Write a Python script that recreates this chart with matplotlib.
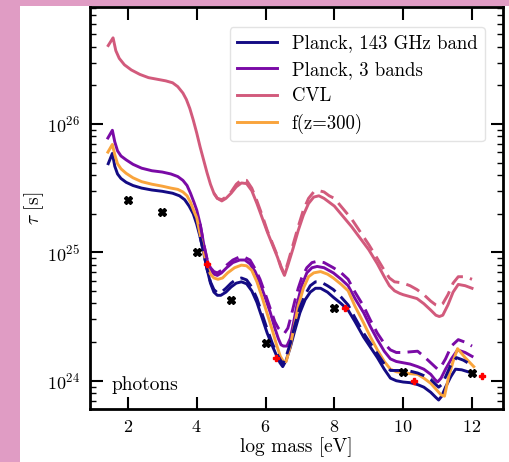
import numpy as np
import matplotlib
matplotlib.use("Agg")
import matplotlib.pyplot as plt
from matplotlib.patches import Rectangle

plt.rcParams['font.family'] = ['cmr10', 'DejaVu Serif']
plt.rcParams['mathtext.fontset'] = 'cm'
plt.rcParams['axes.formatter.use_mathtext'] = True
plt.rcParams['axes.unicode_minus'] = False

# log10(tau / s)
x_143 = [1.43, 1.55, 1.62, 1.7, 1.8, 1.95, 2.15, 2.4, 2.7, 3.0, 3.3, 3.5, 3.65, 3.78, 3.9, 4.0,
         4.1, 4.2, 4.3, 4.4, 4.5, 4.6, 4.7, 4.85, 5.0, 5.15, 5.3, 5.45, 5.6, 5.75, 5.9, 6.05,
         6.2, 6.33, 6.42, 6.5, 6.6, 6.72, 6.85, 7.0, 7.15, 7.3, 7.45, 7.6, 7.8, 7.97, 8.2, 8.4,
         8.6, 8.85, 9.05, 9.25, 9.45, 9.63, 9.8, 10.0, 10.2, 10.42, 10.6, 10.8, 10.95, 11.03,
         11.12, 11.23, 11.38, 11.52, 11.7, 12.0]
y_143 = [25.69, 25.77, 25.67, 25.61, 25.575, 25.545, 25.52, 25.50, 25.485, 25.475, 25.46, 25.44, 25.41, 25.36, 25.30, 25.22,
         25.12, 25.00, 24.87, 24.76, 24.69, 24.665, 24.665, 24.69, 24.73, 24.76, 24.77, 24.755, 24.70, 24.61, 24.49, 24.37,
         24.27, 24.19, 24.14, 24.11, 24.16, 24.26, 24.39, 24.53, 24.63, 24.69, 24.72, 24.72, 24.69, 24.65, 24.60, 24.55,
         24.46, 24.34, 24.26, 24.18, 24.09, 24.02, 24.00, 23.99, 23.985, 23.97, 23.95, 23.91, 23.87, 23.85,
         23.88, 23.95, 24.03, 24.09, 24.085, 24.06]
x_143d = [4.1, 4.2, 4.3, 4.4, 4.5, 4.6, 4.7, 4.85, 5.0, 5.15, 5.3, 5.45, 5.6, 5.75, 5.9, 6.05,
          6.2, 6.33, 6.5, 6.6, 6.72, 6.85, 7.0, 7.15, 7.3, 7.45, 7.6, 7.8, 7.97, 8.2, 8.4,
          8.6, 8.85, 9.05, 9.25, 9.45, 9.63, 9.8, 10.0, 10.2, 10.42, 10.6, 10.8, 10.95, 11.03,
          11.12, 11.23, 11.38, 11.55, 11.75, 12.0]
y_143d = [25.12, 25.00, 24.87, 24.77, 24.71, 24.685, 24.685, 24.72, 24.76, 24.79, 24.80, 24.785, 24.73, 24.64, 24.52, 24.40,
          24.29, 24.21, 24.13, 24.19, 24.29, 24.43, 24.57, 24.67, 24.74, 24.77, 24.77, 24.74, 24.71, 24.65, 24.59,
          24.49, 24.37, 24.29, 24.21, 24.13, 24.08, 24.08, 24.08, 24.075, 24.06, 24.04, 24.01, 23.97, 23.95,
          23.97, 24.03, 24.12, 24.18, 24.16, 24.12]

x_3b = [1.42, 1.55, 1.62, 1.7, 1.8, 1.95, 2.15, 2.4, 2.7, 3.0, 3.25, 3.45, 3.6, 3.72, 3.82, 3.92,
        4.0, 4.1, 4.2, 4.3, 4.4, 4.5, 4.6, 4.72, 4.87, 5.05, 5.25, 5.4, 5.55, 5.7, 5.84, 6.0,
        6.14, 6.27, 6.37, 6.45, 6.52, 6.62, 6.72, 6.82, 6.92, 7.05, 7.2, 7.35, 7.5, 7.7, 7.97,
        8.2, 8.4, 8.6, 8.85, 9.05, 9.25, 9.45, 9.63, 9.8, 10.0, 10.2, 10.42, 10.6, 10.8, 10.92,
        11.0, 11.1, 11.23, 11.4, 11.58, 11.8, 12.0]
y_3b = [25.89, 25.95, 25.86, 25.79, 25.75, 25.72, 25.685, 25.655, 25.635, 25.625, 25.61, 25.59, 25.56, 25.52, 25.46, 25.39,
        25.33, 25.22, 25.07, 24.94, 24.87, 24.83, 24.82, 24.84, 24.88, 24.92, 24.94, 24.94, 24.91, 24.85, 24.76, 24.64,
        24.53, 24.41, 24.33, 24.28, 24.27, 24.27, 24.33, 24.46, 24.60, 24.74, 24.84, 24.88, 24.89, 24.88, 24.84,
        24.79, 24.74, 24.64, 24.53, 24.42, 24.32, 24.23, 24.17, 24.15, 24.14, 24.13, 24.11, 24.09, 24.05, 24.01,
        23.99, 24.02, 24.09, 24.17, 24.24, 24.22, 24.19]
x_3bd = [4.1, 4.2, 4.3, 4.4, 4.5, 4.6, 4.72, 4.87, 5.05, 5.25, 5.4, 5.55, 5.7, 5.84, 6.0,
         6.14, 6.27, 6.37, 6.47, 6.55, 6.65, 6.75, 6.85, 6.95, 7.05, 7.2, 7.35, 7.5, 7.7, 7.97,
         8.2, 8.4, 8.6, 8.85, 9.05, 9.25, 9.45, 9.63, 9.8, 10.0, 10.2, 10.42, 10.6, 10.8, 10.92,
         11.0, 11.1, 11.23, 11.4, 11.6, 11.8, 12.0]
y_3bd = [25.22, 25.07, 24.95, 24.88, 24.85, 24.84, 24.86, 24.90, 24.94, 24.965, 24.96, 24.94, 24.87, 24.79, 24.67,
         24.56, 24.46, 24.41, 24.38, 24.37, 24.41, 24.51, 24.62, 24.72, 24.80, 24.88, 24.92, 24.93, 24.92, 24.88,
         24.84, 24.79, 24.69, 24.58, 24.47, 24.37, 24.29, 24.24, 24.22, 24.22, 24.225, 24.23, 24.19, 24.14, 24.11,
         24.09, 24.11, 24.17, 24.27, 24.32, 24.30, 24.27]

x_cvl = [1.43, 1.57, 1.65, 1.75, 1.9, 2.1, 2.35, 2.6, 2.9, 3.1, 3.3, 3.45, 3.6, 3.7, 3.8, 3.9,
         4.0, 4.1, 4.2, 4.3, 4.4, 4.5, 4.6, 4.73, 4.85, 5.0, 5.15, 5.3, 5.45, 5.6, 5.75, 5.9,
         6.05, 6.2, 6.35, 6.45, 6.55, 6.65, 6.8, 6.95, 7.1, 7.25, 7.4, 7.55, 7.7, 7.85, 8.0,
         8.25, 8.5, 8.75, 9.0, 9.25, 9.45, 9.6, 9.75, 9.9, 10.0, 10.2, 10.4, 10.6, 10.8, 10.95,
         11.05, 11.15, 11.3, 11.45, 11.6, 11.8, 12.0]
y_cvl = [26.61, 26.67, 26.57, 26.51, 26.46, 26.42, 26.385, 26.36, 26.345, 26.335, 26.32, 26.29, 26.24, 26.19, 26.12, 26.03,
         25.93, 25.82, 25.72, 25.62, 25.53, 25.46, 25.42, 25.40, 25.42, 25.46, 25.51, 25.54, 25.535, 25.48, 25.38, 25.27,
         25.16, 25.06, 24.96, 24.88, 24.82, 24.90, 25.03, 25.17, 25.29, 25.38, 25.43, 25.44, 25.42, 25.39, 25.36,
         25.28, 25.20, 25.11, 25.02, 24.91, 24.81, 24.74, 24.70, 24.68, 24.67, 24.655, 24.64, 24.60, 24.55, 24.51,
         24.50, 24.51, 24.59, 24.69, 24.75, 24.74, 24.72]
x_cvld = [4.5, 4.6, 4.73, 4.85, 5.0, 5.15, 5.3, 5.45, 5.6, 5.75, 5.9, 6.05, 6.2, 6.35, 6.45, 6.55,
          6.65, 6.8, 6.95, 7.1, 7.25, 7.4, 7.55, 7.7, 7.85, 8.0, 8.25, 8.5, 8.75, 9.0, 9.25,
          9.45, 9.6, 9.75, 9.9, 10.0, 10.2, 10.4, 10.6, 10.8, 10.95, 11.05, 11.15, 11.3, 11.45,
          11.6, 11.8, 12.0]
y_cvld = [25.46, 25.42, 25.41, 25.43, 25.47, 25.53, 25.565, 25.56, 25.50, 25.40, 25.29, 25.17, 25.07, 24.97, 24.89, 24.83,
          24.92, 25.06, 25.20, 25.33, 25.42, 25.47, 25.48, 25.47, 25.44, 25.42, 25.34, 25.26, 25.16, 25.06, 24.95,
          24.86, 24.80, 24.77, 24.765, 24.76, 24.74, 24.71, 24.67, 24.62, 24.59, 24.58, 24.60, 24.67, 24.76,
          24.81, 24.81, 24.79]

x_f300 = [1.42, 1.55, 1.62, 1.7, 1.8, 1.95, 2.15, 2.4, 2.7, 3.0, 3.25, 3.45, 3.6, 3.72, 3.82, 3.92,
          4.0, 4.1, 4.2, 4.3, 4.4, 4.5, 4.62, 4.75, 4.9, 5.1, 5.3, 5.45, 5.6, 5.75, 5.9, 6.05,
          6.19, 6.32, 6.43, 6.52, 6.6, 6.72, 6.83, 6.95, 7.1, 7.25, 7.4, 7.6, 7.8, 7.97, 8.2,
          8.4, 8.6, 8.85, 9.05, 9.25, 9.45, 9.63, 9.8, 10.0, 10.2, 10.42, 10.6, 10.8, 11.0, 11.1,
          11.2, 11.32, 11.45, 11.58, 11.8, 12.05]
y_f300 = [25.78, 25.84, 25.76, 25.69, 25.65, 25.615, 25.58, 25.55, 25.53, 25.515, 25.50, 25.49, 25.47, 25.44, 25.39, 25.32,
          25.27, 25.14, 25.01, 24.89, 24.83, 24.80, 24.79, 24.80, 24.84, 24.88, 24.90, 24.895, 24.86, 24.77, 24.65, 24.52,
          24.40, 24.28, 24.19, 24.15, 24.15, 24.27, 24.42, 24.58, 24.72, 24.81, 24.84, 24.85, 24.83, 24.80, 24.75,
          24.70, 24.58, 24.45, 24.34, 24.24, 24.15, 24.09, 24.07, 24.06, 24.055, 24.05, 24.02, 23.98, 23.92, 23.89,
          23.88, 24.03, 24.15, 24.25, 24.18, 24.11]

x_black = [2, 3, 4, 5, 6, 8, 10, 12]
y_black = [25.41, 25.31, 25.00, 24.63, 24.29, 24.57, 24.07, 24.06]
x_red = [4.3, 6.3, 8.3, 10.3, 12.3]
y_red = [24.91, 24.18, 24.57, 24.00, 24.04]

c_143 = '#140b84'
c_3b = '#7a0aa6'
c_cvl = '#d25a7c'
c_f300 = '#f9a43c'

fig = plt.figure(figsize=(5.09, 4.62), dpi=100)
fig.patch.set_facecolor('#e09cc4')
fig.patches.append(Rectangle((20 / 509, 0), 1, 1 - 6 / 462, transform=fig.transFigure,
                             facecolor='white', edgecolor='none', zorder=-10))
ax = fig.add_axes([90 / 509, 1 - 409 / 462, 413 / 509, 402 / 462])
ax.set_zorder(5)

lw = 2.1
dash = (0, (5, 2.5))
kw = dict(lw=lw, solid_joinstyle='round', dash_joinstyle='round')
ax.plot(x_143, 10 ** np.array(y_143), color=c_143, label='Planck, 143 GHz band', **kw)
ax.plot(x_3b, 10 ** np.array(y_3b), color=c_3b, label='Planck, 3 bands', **kw)
ax.plot(x_cvl, 10 ** np.array(y_cvl), color=c_cvl, label='CVL', **kw)
ax.plot(x_f300, 10 ** np.array(y_f300), color=c_f300, label='f(z=300)', **kw)
ax.plot(x_143d, 10 ** np.array(y_143d), color=c_143, ls=dash, **kw)
ax.plot(x_3bd, 10 ** np.array(y_3bd), color=c_3b, ls=dash, **kw)
ax.plot(x_cvld, 10 ** np.array(y_cvld), color=c_cvl, ls=dash, **kw)

ax.plot(x_black, 10 ** np.array(y_black), 'X', color='black', ms=6, ls='none', zorder=5)
ax.plot(x_red, 10 ** np.array(y_red), 'P', color='red', ms=5, ls='none', zorder=5, clip_on=False)

ax.set_yscale('log')
ax.set_xlim(0.9, 12.9)
ax.set_ylim(10 ** 23.78, 10 ** 26.91)
ax.set_xticks([2, 4, 6, 8, 10, 12])
ax.tick_params(which='both', direction='in', top=True, right=True, labelsize=13)
ax.tick_params(which='major', length=9, width=1.5, pad=7)
ax.tick_params(which='minor', length=4, width=1.0)
for s in ax.spines.values():
    s.set_linewidth(2)

ax.set_xlabel('log mass [eV]', fontsize=14, labelpad=2)
ax.set_ylabel(r'$\tau$ [s]', fontsize=14, labelpad=1)
ax.text(0.052, 0.06, 'photons', transform=ax.transAxes, fontsize=14, va='center')

leg = ax.legend(loc='upper right', bbox_to_anchor=(0.956, 0.95), borderaxespad=0,
                fontsize=13.5, handlelength=2.1, labelspacing=0.45, fancybox=True, framealpha=0.8)
leg.get_frame().set_edgecolor('#dddddd')

fig.savefig('out.png', dpi=100, facecolor=fig.get_facecolor())
